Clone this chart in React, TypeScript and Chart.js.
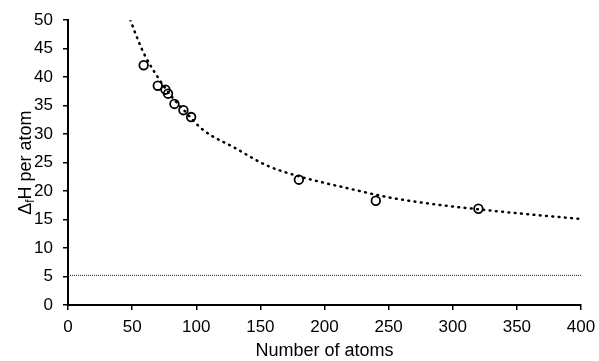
import React, { useEffect, useRef } from "react";
import { Chart, registerables } from "chart.js";

Chart.register(...registerables);

// Observed data points
const atomCounts = [59, 70, 76, 78, 83, 90, 96, 180, 240, 320];
const enthalpyPerAtom = [42.1, 38.5, 37.8, 37.1, 35.3, 34.2, 33.0, 22.0, 18.3, 16.9];

// Trend curve
const trendX = [48.5, 55, 60, 70, 80, 90, 105, 130, 155, 180, 220, 250, 285, 320, 360, 400];
const trendY = [50.1, 46.3, 43.8, 40.0, 36.8, 34.3, 30.8, 27.6, 24.5, 22.6, 20.4, 18.9, 17.7, 16.8, 15.9, 15.1];

// Horizontal reference line
const refX = [0, 400];
const refY = [5.2, 5.2];

const xTitle = "Number of atoms";
const yTitleParts = ["Δ", "f", "H per atom"];

const FONT = "'Liberation Sans', Arial, Helvetica, sans-serif";

const yTitlePlugin = {
  id: "yTitle",
  afterDraw(chart: any) {
    const ctx = chart.ctx;
    const area = chart.chartArea;
    const cy = (area.top + area.bottom) / 2;
    ctx.save();
    ctx.fillStyle = "#000";
    ctx.textBaseline = "alphabetic";
    ctx.textAlign = "left";
    const big = `18px ${FONT}`;
    const small = `12px ${FONT}`;
    ctx.font = big;
    const w0 = ctx.measureText(yTitleParts[0]).width;
    const w2 = ctx.measureText(yTitleParts[2]).width;
    ctx.font = small;
    const w1 = ctx.measureText(yTitleParts[1]).width;
    const total = w0 + w1 + w2;
    ctx.translate(30.5, cy);
    ctx.rotate(-Math.PI / 2);
    let x = -total / 2;
    ctx.font = big;
    ctx.fillText(yTitleParts[0], x, 0);
    x += w0;
    ctx.font = small;
    ctx.fillText(yTitleParts[1], x, 3.5);
    x += w1;
    ctx.font = big;
    ctx.fillText(yTitleParts[2], x, 0);
    ctx.restore();
  },
};

export default function App() {
  const canvasRef = useRef<HTMLCanvasElement | null>(null);

  useEffect(() => {
    const canvas = canvasRef.current;
    if (!canvas) return;
    const chart = new Chart(canvas, {
      type: "scatter",
      data: {
        datasets: [
          {
            label: "trend",
            data: trendX.map((x, i) => ({ x, y: trendY[i] })),
            showLine: true,
            pointRadius: 0,
            borderColor: "#000",
            borderWidth: 2.5,
            borderDash: [0.8, 5.5],
            borderCapStyle: "round",
            cubicInterpolationMode: "monotone",
            order: 2,
          },
          {
            label: "reference",
            data: refX.map((x, i) => ({ x, y: refY[i] })),
            showLine: true,
            pointRadius: 0,
            borderColor: "#222",
            borderWidth: 1,
            borderDash: [1, 1],
            order: 3,
          },
          {
            label: "data",
            data: atomCounts.map((x, i) => ({ x, y: enthalpyPerAtom[i] })),
            showLine: false,
            pointStyle: "circle",
            pointRadius: 4.3,
            pointBorderWidth: 1.8,
            pointBorderColor: "#000",
            pointBackgroundColor: "rgba(0,0,0,0)",
            order: 1,
          },
        ],
      } as any,
      options: {
        responsive: false,
        devicePixelRatio: 1,
        animation: false,
        layout: { padding: { top: 17, right: 18, left: 0, bottom: 0 } },
        plugins: {
          legend: { display: false },
          tooltip: { enabled: false },
        },
        scales: {
          x: {
            type: "linear",
            min: 0,
            max: 400,
            afterFit: (s: any) => {
              s.height = 56;
              s.paddingRight = 12;
              s.paddingLeft = 0;
            },
            ticks: {
              stepSize: 50,
              color: "#000",
              font: { family: FONT, size: 17 },
              padding: 7,
              maxRotation: 0,
            },
            grid: {
              drawOnChartArea: false,
              drawTicks: true,
              tickLength: 5,
              color: "#000",
              lineWidth: 1.5,
            },
            border: { display: true, color: "#000", width: 2 },
            title: {
              display: true,
              text: xTitle,
              color: "#000",
              font: { family: FONT, size: 18, lineHeight: 1.0 },
              padding: { top: 0, bottom: 1 },
            },
          },
          y: {
            type: "linear",
            min: 0,
            max: 50,
            afterFit: (s: any) => {
              s.width = 68;
            },
            ticks: {
              stepSize: 5,
              color: "#000",
              font: { family: FONT, size: 17 },
              padding: 10,
            },
            grid: {
              drawOnChartArea: false,
              drawTicks: true,
              tickLength: 5,
              color: "#000",
              lineWidth: 1.5,
            },
            border: { display: true, color: "#000", width: 2 },
          },
        },
      } as any,
      plugins: [yTitlePlugin],
    });
    return () => chart.destroy();
  }, []);

  return (
    <div style={{ position: "fixed", left: 0, top: 0, width: 599, height: 361, background: "#fff" }}>
      <canvas ref={canvasRef} width={599} height={361} />
    </div>
  );
}
